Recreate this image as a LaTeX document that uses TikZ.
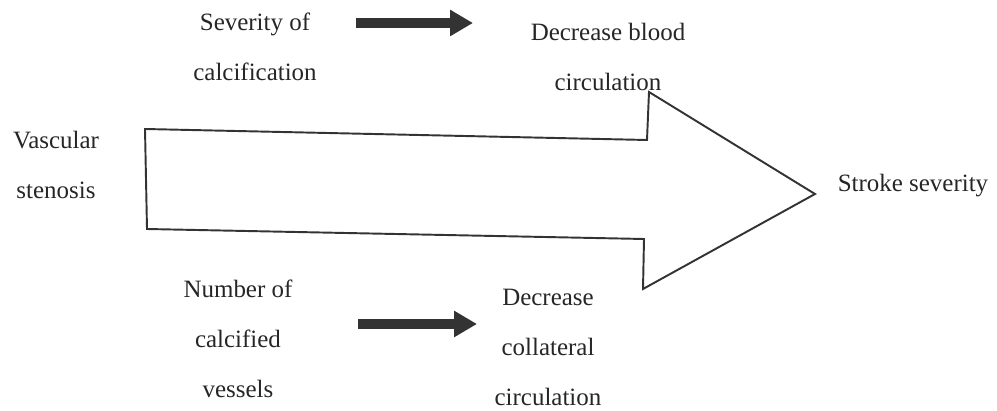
\documentclass[tikz,border=0pt]{standalone}
\usepackage{fontspec}
\setmainfont{Liberation Serif}
\usetikzlibrary{arrows.meta}
\begin{document}
\begin{tikzpicture}[x=0.02cm,y=-0.02cm,
  lbl/.style={align=center,inner sep=0pt,text=black!85,font=\fontsize{14.2}{28.45}\selectfont},
  bigarrow/.style={draw=black!80,line width=1.1pt,line join=miter},
  thickarrow/.style={draw=black!80,line width=0.2cm,-{Triangle[length=0.46cm,width=0.5cm]}}]
\useasboundingbox (0,0) rectangle (997,411);
% big arrow
\draw[bigarrow] (145,129) -- (647,140) -- (649,92) -- (815,194) -- (643,289) -- (644,239) -- (147,229) -- cycle;
% labels
\node[lbl] (sev) at (255,47) {Severity of\\calcification};
\node[lbl] (dbc) at (608,57) {Decrease blood\\circulation};
\node[lbl] (vs) at (56,165) {Vascular\\stenosis};
\node[lbl] (ss) at (913,186) {Stroke severity};
\node[lbl] (ncv) at (238,339) {Number of\\calcified\\vessels};
\node[lbl] (dcc) at (548,347) {Decrease\\collateral\\circulation};
% small arrows
\coordinate (a1s) at (356,23);
\coordinate (a1e) at (473,23);
\coordinate (a2s) at (358,324);
\coordinate (a2e) at (477,324);
\draw[thickarrow] (a1s) -- (a1e);
\draw[thickarrow] (a2s) -- (a2e);
\end{tikzpicture}
\end{document}
